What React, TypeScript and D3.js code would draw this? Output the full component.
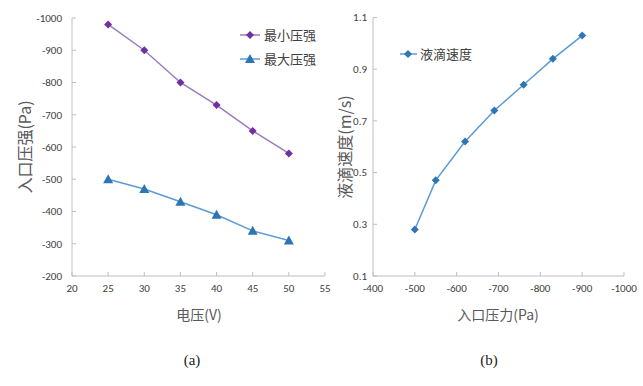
import * as d3 from "d3";

// (a) voltage vs inlet pressure
const voltage = [25, 30, 35, 40, 45, 50];
const minPressure = [-980, -900, -800, -730, -650, -580];
const maxPressure = [-500, -470, -430, -390, -340, -310];
const voltTicks = [20, 25, 30, 35, 40, 45, 50, 55];
const pressTicks = [-200, -300, -400, -500, -600, -700, -800, -900, -1000];

// (b) inlet pressure vs droplet speed
const inletPressure = [-500, -550, -620, -690, -760, -830, -900];
const dropSpeed = [0.28, 0.47, 0.62, 0.74, 0.84, 0.94, 1.03];
const inletTicks = [-400, -500, -600, -700, -800, -900, -1000];
const speedTicks = [0.1, 0.3, 0.5, 0.7, 0.9, 1.1];

const tickFont = "Carlito, 'Liberation Sans Narrow', 'Liberation Sans', Arial, sans-serif";
const cjkFont = "'Noto Sans CJK SC', 'Noto Sans', sans-serif";
const axisColor = "#bfbfbf";
const textColor = "#404040";

function Diamond({ x, y, color }: { x: number; y: number; color: string }) {
  const s = 4;
  return <path d={`M${x},${y - s}L${x + s},${y}L${x},${y + s}L${x - s},${y}Z`} fill={color} />;
}

function Triangle({ x, y, color }: { x: number; y: number; color: string }) {
  const s = 5;
  return <path d={`M${x},${y - s}L${x + s},${y + s * 0.8}L${x - s},${y + s * 0.8}Z`} fill={color} />;
}

export default function App() {
  // left panel scales
  const xa = d3.scaleLinear().domain([20, 55]).range([72, 325]);
  const ya = d3.scaleLinear().domain([-200, -1000]).range([276, 18]);
  // right panel scales
  const xb = d3.scaleLinear().domain([-400, -1000]).range([373, 624]);
  const yb = d3.scaleLinear().domain([0.1, 1.1]).range([276, 17.5]);

  const lineA = d3.line<number>().x((d, i) => xa(voltage[i])).y((d) => ya(d));
  const lineB = d3.line<number>().x((d, i) => xb(inletPressure[i])).y((d) => yb(d));

  const purple = "#7030a0";
  const purpleLine = "#9a7cc0";
  const blue = "#2e75b6";
  const blueLine = "#5b9bd5";

  return (
    <svg width={643} height={386} style={{ position: "absolute", left: 0, top: 0, background: "#fff" }}>
      {/* ===== panel (a) ===== */}
      <g>
        <line x1={xa(20)} x2={xa(20)} y1={ya(-200)} y2={ya(-1000)} stroke={axisColor} />
        <line x1={xa(20)} x2={xa(55)} y1={ya(-200)} y2={ya(-200)} stroke={axisColor} />
        {pressTicks.map((t) => (
          <g key={t}>
            <line x1={xa(20)} x2={xa(20) + 4} y1={ya(t)} y2={ya(t)} stroke={axisColor} />
            <text x={62} y={ya(t)} dy="0.35em" textAnchor="end" fontSize={11} fontFamily={tickFont} fill={textColor}>
              {t}
            </text>
          </g>
        ))}
        {voltTicks.map((t) => (
          <g key={t}>
            <line x1={xa(t)} x2={xa(t)} y1={ya(-200)} y2={ya(-200) - 4} stroke={axisColor} />
            <text x={xa(t)} y={292} textAnchor="middle" fontSize={11} fontFamily={tickFont} fill={textColor}>
              {t}
            </text>
          </g>
        ))}
        <path d={lineA(minPressure) ?? ""} fill="none" stroke={purpleLine} strokeWidth={1.5} />
        <path d={lineA(maxPressure) ?? ""} fill="none" stroke={blueLine} strokeWidth={1.5} />
        {minPressure.map((v, i) => (
          <Diamond key={"mn" + i} x={xa(voltage[i])} y={ya(v)} color={purple} />
        ))}
        {maxPressure.map((v, i) => (
          <Triangle key={"mx" + i} x={xa(voltage[i])} y={ya(v)} color={blue} />
        ))}
        {/* legend */}
        <line x1={240} x2={260} y1={35} y2={35} stroke={purpleLine} strokeWidth={1.5} />
        <Diamond x={250} y={35} color={purple} />
        <text x={264} y={35} dy="0.35em" fontSize={13} fontFamily={cjkFont} fill={textColor}>最小压强</text>
        <line x1={240} x2={260} y1={59} y2={59} stroke={blueLine} strokeWidth={1.5} />
        <Triangle x={250} y={59} color={blue} />
        <text x={264} y={59} dy="0.35em" fontSize={13} fontFamily={cjkFont} fill={textColor}>最大压强</text>
        {/* axis titles */}
        <text transform="translate(25,147) rotate(-90)" textAnchor="middle" dy="0.35em" fontSize={16} fontFamily={cjkFont} fill="#595959">
          入口压强(Pa)
        </text>
        <text x={199} y={315} textAnchor="middle" dy="0.35em" fontSize={14} fontFamily={cjkFont} fill="#595959">
          电压(V)
        </text>
        <text x={192} y={360} textAnchor="middle" dy="0.35em" fontSize={15} fontFamily="'Liberation Serif', 'DejaVu Serif', serif" fill="#222">
          (a)
        </text>
      </g>

      {/* ===== panel (b) ===== */}
      <g>
        <line x1={xb(-400)} x2={xb(-400)} y1={yb(0.1)} y2={yb(1.1)} stroke={axisColor} />
        <line x1={xb(-400)} x2={xb(-1000)} y1={yb(0.1)} y2={yb(0.1)} stroke={axisColor} />
        {speedTicks.map((t) => (
          <g key={t}>
            <line x1={xb(-400)} x2={xb(-400) + 4} y1={yb(t)} y2={yb(t)} stroke={axisColor} />
            <text x={367} y={yb(t)} dy="0.35em" textAnchor="end" fontSize={11} fontFamily={tickFont} fill={textColor}>
              {t}
            </text>
          </g>
        ))}
        {inletTicks.map((t) => (
          <g key={t}>
            <line x1={xb(t)} x2={xb(t)} y1={yb(0.1)} y2={yb(0.1) - 4} stroke={axisColor} />
            <text x={xb(t)} y={292} textAnchor="middle" fontSize={11} fontFamily={tickFont} fill={textColor}>
              {t}
            </text>
          </g>
        ))}
        <path d={lineB(dropSpeed) ?? ""} fill="none" stroke={blueLine} strokeWidth={1.5} />
        {dropSpeed.map((v, i) => (
          <Diamond key={"sp" + i} x={xb(inletPressure[i])} y={yb(v)} color={blue} />
        ))}
        {/* legend */}
        <line x1={400} x2={417} y1={54} y2={54} stroke={blueLine} strokeWidth={1.5} />
        <Diamond x={408} y={54} color={blue} />
        <text x={420} y={54} dy="0.35em" fontSize={13} fontFamily={cjkFont} fill={textColor}>液滴速度</text>
        {/* axis titles */}
        <text transform="translate(345,147) rotate(-90)" textAnchor="middle" dy="0.35em" fontSize={16} fontFamily={cjkFont} fill="#595959">
          液滴速度(m/s)
        </text>
        <text x={498} y={315} textAnchor="middle" dy="0.35em" fontSize={14} fontFamily={cjkFont} fill="#595959">
          入口压力(Pa)
        </text>
        <text x={489} y={360} textAnchor="middle" dy="0.35em" fontSize={15} fontFamily="'Liberation Serif', 'DejaVu Serif', serif" fill="#222">
          (b)
        </text>
      </g>
    </svg>
  );
}
